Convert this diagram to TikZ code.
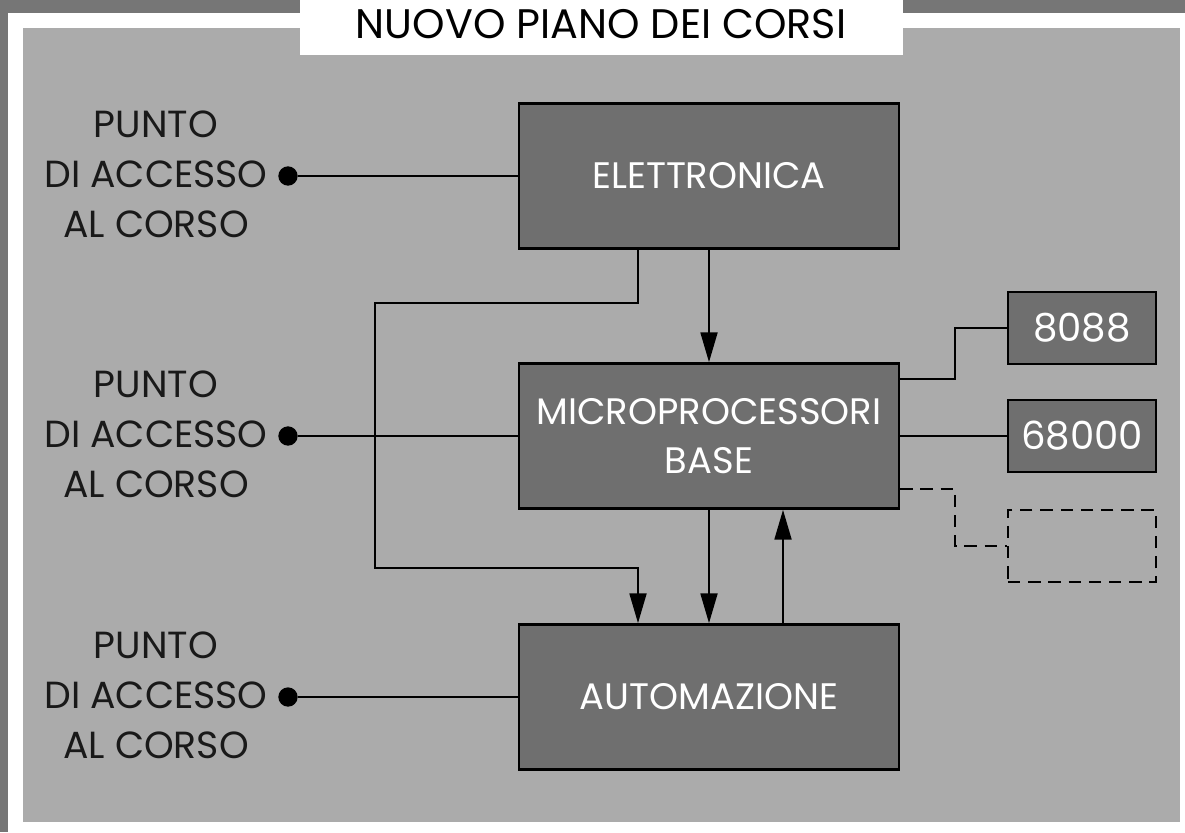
\documentclass[tikz,border=0pt]{standalone}
\usepackage{fontspec}
\setmainfont{Poppins}
\usetikzlibrary{arrows.meta}
\definecolor{cornice}{HTML}{767676}
\definecolor{pannello}{HTML}{ABABAB}
\definecolor{scatola}{HTML}{6F6F6F}

\begin{document}
\begin{tikzpicture}[x=0.02cm, y=-0.02cm, font=\fontsize{21.5}{28.5}\selectfont,
    corso/.style={draw=black, line width=1.4pt, fill=scatola, text=white, align=center,
        minimum width=7.6cm, minimum height=2.9cm, inner sep=0pt, font=\fontsize{21}{28}\selectfont},
    cpu/.style={corso, minimum width=2.96cm, minimum height=1.44cm, font=\fontsize{22}{24}\selectfont},
    vuoto/.style={draw=black, line width=1.5pt, dash pattern=on 7pt off 4.5pt,
        minimum width=2.96cm, minimum height=1.44cm},
    punto/.style={circle, fill=black, minimum size=11pt, inner sep=0pt},
    accesso/.style={align=center, text=black!90},
    filo/.style={line width=1.6pt},
    freccia/.style={filo, -{Triangle[length=17pt, width=9.5pt]}}]
    \useasboundingbox (0,0) rectangle (1185,832);

    % Frame and title tab
    \fill[cornice] (0,0) rectangle (1185,832);
    \fill[white] (8,13) rectangle (1185,832);
    \fill[pannello] (23,28) rectangle (1180,822);
    \fill[white] (300,0) rectangle (903,55);
    \node[font=\fontsize{23.5}{26}\selectfont] (titolo) at (601,24) {NUOVO PIANO DEI CORSI};

    % The three courses
    \node[corso] (elettronica) at (709,176) {ELETTRONICA};
    \node[corso] (micro) at (709,436) {MICROPROCESSORI\\BASE};
    \node[corso] (automazione) at (709,697) {AUTOMAZIONE};

    % Processor modules on the right, the last one still to come
    \node[cpu] (i8088) at (1082,328) {8088};
    \node[cpu] (m68000) at (1082,436) {68000};
    \node[vuoto] (futuro) at (1082,546) {};

    % Access points, one for each course
    \foreach \n/\y/\corso in {1/176/elettronica, 2/436/micro, 3/697/automazione} {
        \node[accesso] (etichetta\n) at (156,\y-2) {PUNTO\\DI ACCESSO\\AL CORSO};
        \node[punto] (accesso\n) at (288,\y) {};
        \draw[filo] (accesso\n) -- (\corso);
    }

    % Course flow
    \coordinate (scavalco) at (638,0);
    \coordinate (giro1) at (375,303);
    \coordinate (giro2) at (375,568);
    \coordinate (risalita) at (783,0);
    \coordinate (gomito) at (955,0);
    \draw[freccia] (elettronica.south -| scavalco) |- (giro1) -- (giro2) -| (automazione.north -| scavalco);
    \draw[freccia] (elettronica) -- (micro);
    \draw[freccia] (micro) -- (automazione);
    \draw[freccia] (automazione.north -| risalita) -- (micro.south -| risalita);

    % Links to the processor modules
    \draw[filo] ([yshift=1.14cm]micro.east) -| (gomito |- i8088) -- (i8088);
    \draw[filo] (micro) -- (m68000);
    \draw[filo, dash pattern=on 7pt off 4.5pt] ([yshift=-1.06cm]micro.east) -| (gomito |- futuro) -- (futuro);
\end{tikzpicture}
\end{document}
